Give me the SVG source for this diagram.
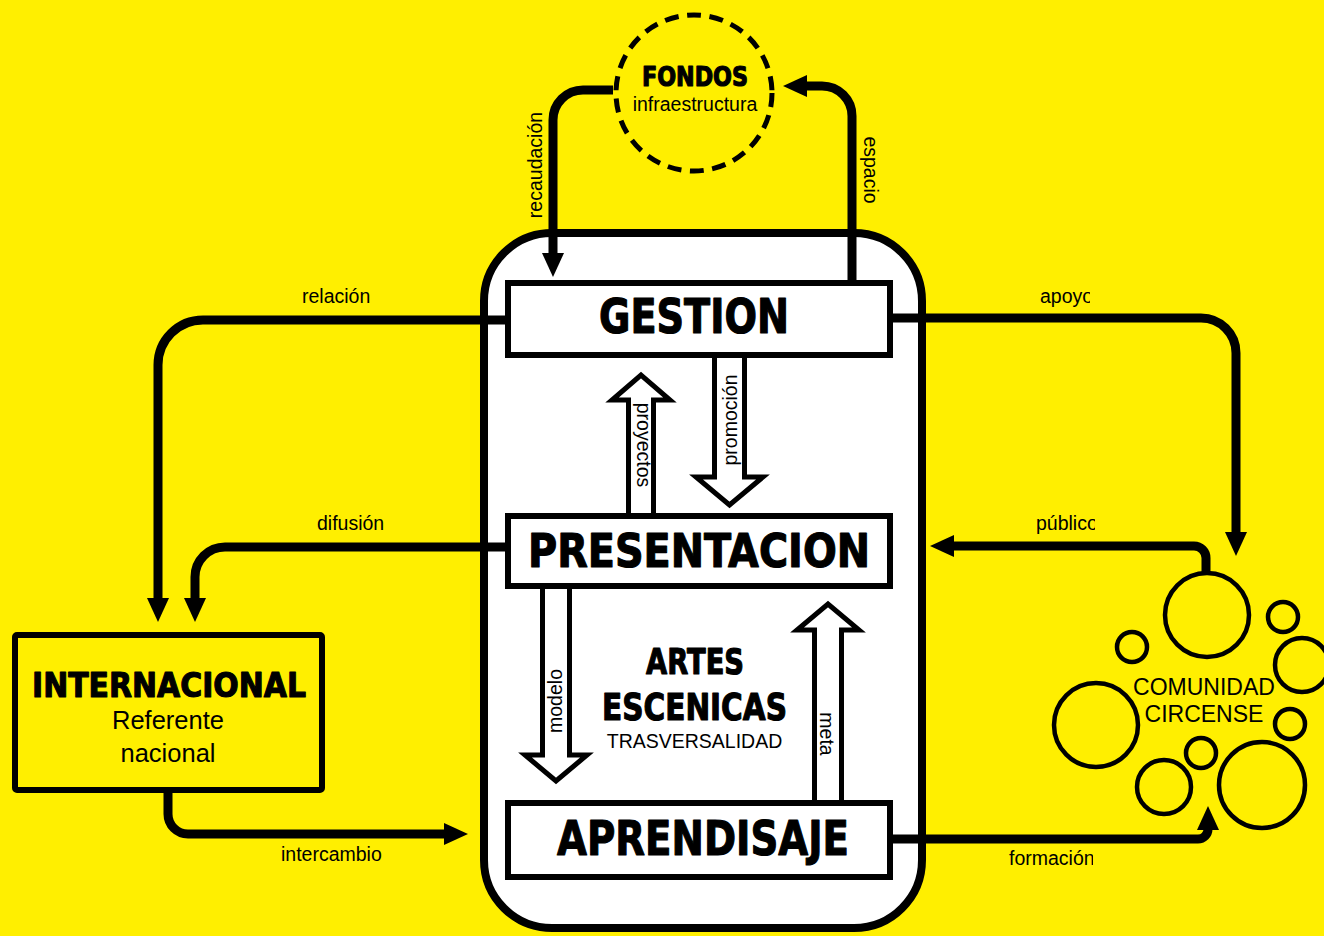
<svg xmlns="http://www.w3.org/2000/svg" width="1324" height="936" viewBox="0 0 1324 936">
<defs>
<style>
.conn{fill:none;stroke:#000;stroke-width:9;marker-end:url(#ah)}
.box{fill:#fff;stroke:#000;stroke-width:6}
.hollow{fill:#fff;stroke:#000;stroke-width:5;stroke-linejoin:miter}
.head{font-family:"DejaVu Sans",sans-serif;font-weight:bold;fill:#000;stroke:#000;stroke-width:1.2;stroke-linejoin:round}
.lbl{font-family:"Liberation Sans",Arial,sans-serif;font-size:19.5px;fill:#000}
.bub{fill:none;stroke:#000;stroke-width:4.5}
</style>
<marker id="ah" viewBox="0 0 24 22" refX="1" refY="11" markerWidth="24" markerHeight="22" markerUnits="userSpaceOnUse" orient="auto">
<path d="M0,0 L24,11 L0,22 z" fill="#000"/>
</marker>
<clipPath id="cApoyo"><rect x="1000" y="270" width="90" height="50"/></clipPath>
<clipPath id="cPublico"><rect x="1000" y="500" width="95" height="50"/></clipPath>
<clipPath id="cFormacion"><rect x="990" y="840" width="103" height="40"/></clipPath>
</defs>
<rect x="0" y="0" width="1324" height="936" fill="#FFEF00"/>

<g id="artes-escenicas">
<rect x="484" y="233" width="438" height="695" rx="68" ry="68" fill="#fff" stroke="#000" stroke-width="8"/>
</g>

<g id="connectors">
<path class="conn" d="M613,90 H583 A30,30 0 0 0 553,120 V254"/>
<path class="conn" d="M852,280 V116 A30,30 0 0 0 822,86 H806"/>
<path class="conn" d="M505,320 H203 A45,45 0 0 0 158,365 V599"/>
<path class="conn" d="M505,547 H225 A30,30 0 0 0 195,577 V599"/>
<path class="conn" d="M168,793 V814 A20,20 0 0 0 188,834 H445"/>
<path class="conn" d="M893,318 H1201 A35,35 0 0 1 1236,353 V533"/>
<path class="conn" d="M1206,573 V558 A12,12 0 0 0 1194,546 H953"/>
<path class="conn" d="M893,839 H1198 A10,10 0 0 0 1208,829"/>
<polygon class="hollow" points="628.5,516 628.5,400 612,400 641,375 670,400 653.5,400 653.5,516"/>
<polygon class="hollow" points="714.5,355 714.5,477 696,477 729.5,505 763,477 744.5,477 744.5,355"/>
<polygon class="hollow" points="542.5,586 542.5,755 525,755 556,781 587,755 569.5,755 569.5,586"/>
<polygon class="hollow" points="814.5,803 814.5,630 797,630 828,604 859,630 841.5,630 841.5,803"/>
<text class="lbl" transform="translate(542,165) rotate(-90)" text-anchor="middle">recaudación</text>
<text class="lbl" transform="translate(864,170) rotate(90)" text-anchor="middle">espacio</text>
<text class="lbl" x="302" y="303">relación</text>
<text class="lbl" x="317" y="530">difusión</text>
<text class="lbl" x="281" y="861">intercambio</text>
<text class="lbl" x="1040" y="303" clip-path="url(#cApoyo)">apoyo</text>
<text class="lbl" x="1036" y="530" clip-path="url(#cPublico)">público</text>
<text class="lbl" x="1009" y="865" clip-path="url(#cFormacion)">formación</text>
<text class="lbl" transform="translate(637,445) rotate(90)" text-anchor="middle">proyectos</text>
<text class="lbl" transform="translate(737,420) rotate(-90)" text-anchor="middle">promoción</text>
<text class="lbl" transform="translate(562,701) rotate(-90)" text-anchor="middle">modelo</text>
<text class="lbl" transform="translate(820,734) rotate(90)" text-anchor="middle">meta</text>
</g>

<g id="gestion">
<rect class="box" x="508" y="283" width="382" height="72"/>
<text class="head" x="694" y="333" font-size="48" text-anchor="middle" textLength="190" lengthAdjust="spacingAndGlyphs">GESTION</text>
</g>

<g id="presentacion">
<rect class="box" x="508" y="516" width="382" height="70"/>
<text class="head" x="699" y="567" font-size="47" text-anchor="middle" textLength="342" lengthAdjust="spacingAndGlyphs">PRESENTACION</text>
</g>

<g id="aprendisaje">
<rect class="box" x="508" y="803" width="382" height="74"/>
<text class="head" x="703" y="855" font-size="48" text-anchor="middle" textLength="292" lengthAdjust="spacingAndGlyphs">APRENDISAJE</text>
</g>

<g id="artes-label">
<text class="head" x="695" y="674" font-size="36" text-anchor="middle" textLength="98" lengthAdjust="spacingAndGlyphs">ARTES</text>
<text class="head" x="694.5" y="720" font-size="37" text-anchor="middle" textLength="185" lengthAdjust="spacingAndGlyphs">ESCENICAS</text>
<text class="lbl" x="694.5" y="748" text-anchor="middle">TRASVERSALIDAD</text>
</g>

<g id="fondos">
<circle cx="694" cy="93" r="78" fill="none" stroke="#000" stroke-width="5" stroke-dasharray="14 8.5"/>
<text class="head" x="695" y="86" font-size="26" text-anchor="middle" textLength="106" lengthAdjust="spacingAndGlyphs">FONDOS</text>
<text class="lbl" x="695" y="111" text-anchor="middle">infraestructura</text>
</g>

<g id="internacional">
<rect x="15" y="635" width="307" height="155" rx="2" fill="#FFEF00" stroke="#000" stroke-width="6"/>
<text class="head" x="169" y="697" font-size="34" text-anchor="middle" textLength="274" lengthAdjust="spacingAndGlyphs">INTERNACIONAL</text>
<text class="lbl" x="168" y="729" text-anchor="middle" style="font-size:25.5px">Referente</text>
<text class="lbl" x="168" y="762" text-anchor="middle" style="font-size:25.5px">nacional</text>
</g>

<g id="comunidad-circense">
<circle class="bub" cx="1207" cy="615" r="42"/>
<circle class="bub" cx="1283" cy="617" r="15"/>
<circle class="bub" cx="1302" cy="665" r="27"/>
<circle class="bub" cx="1132" cy="647" r="15"/>
<circle class="bub" cx="1096" cy="725" r="42"/>
<circle class="bub" cx="1290" cy="724" r="15"/>
<circle class="bub" cx="1201" cy="753" r="15"/>
<circle class="bub" cx="1164" cy="787" r="27"/>
<circle class="bub" cx="1262" cy="785" r="43"/>
<text class="lbl" x="1204" y="695" text-anchor="middle" style="font-size:23px">COMUNIDAD</text>
<text class="lbl" x="1204" y="722" text-anchor="middle" style="font-size:23px">CIRCENSE</text>
</g>
</svg>
